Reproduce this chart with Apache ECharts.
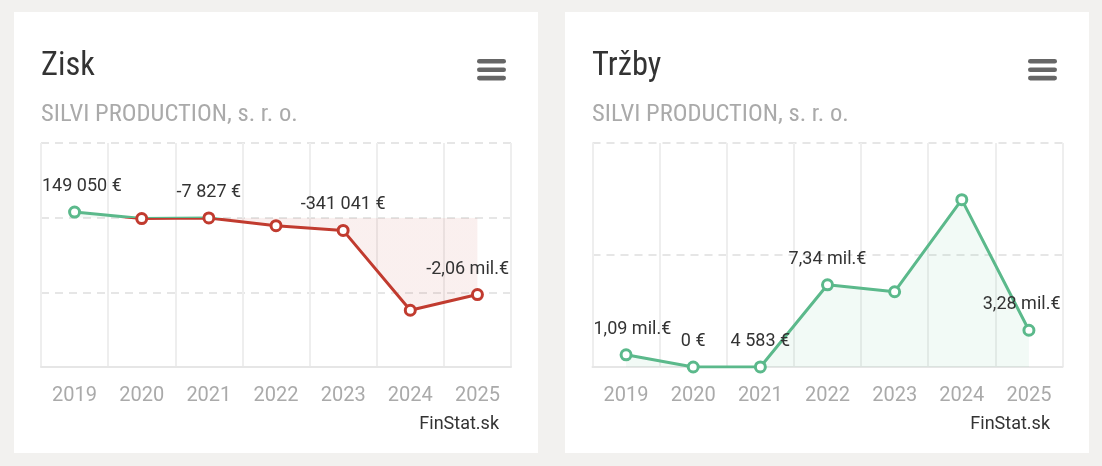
<!DOCTYPE html>
<html><head><meta charset="utf-8">
<script src="https://cdn.jsdelivr.net/npm/echarts@6/dist/echarts.min.js"></script>
<style>
html,body{margin:0;padding:0;background:#f2f1ef;width:1102px;height:466px;overflow:hidden;}
.card{position:absolute;top:12px;width:524px;height:441px;background:#fff;}
#c{position:absolute;left:0;top:0;width:1102px;height:466px;}
</style></head><body>
<div class="card" style="left:14px"></div>
<div class="card" style="left:565px"></div>
<div id="c"></div>
<script>
// ---- data ----
const years = ['2019', '2020', '2021', '2022', '2023', '2024', '2025'];
const profit = [149050, -25000, -7827, -214000, -341041, -2480000, -2060000];
const revenue = [1090000, 0, 4583, 7340000, 6720000, 14940000, 3280000];
const profitLabelShown = [true, false, true, false, true, false, true];
const revenueLabelShown = [true, true, true, true, false, false, true];
const profitAxisMin = -4000000, profitAxisMax = 2000000, profitAxisStep = 2000000;
const revenueAxisMin = 0, revenueAxisMax = 20000000, revenueAxisStep = 10000000;
const cardTitles = ['Zisk', 'Tržby'];
const companyName = 'SILVI PRODUCTION, s. r. o.';
const sourceText = 'FinStat.sk';

// ---- style ----
const GREEN = '#5bb98b', RED = '#c13b2f';
const GREEN_A = 'rgba(91,185,139,0.08)', RED_A = 'rgba(193,59,47,0.08)';
function fontAvail(name) {
  const c = document.createElement('canvas').getContext('2d');
  const t = 'SILVI PRODUCTION abc';
  c.font = '40px monospace'; const a = c.measureText(t).width;
  c.font = '40px "' + name + '", monospace'; const b = c.measureText(t).width;
  return a !== b;
}
const cond = fontAvail('Roboto Condensed');
const titleFont = cond ? '32.5px "Roboto Condensed"' : '30px Roboto';
const subFont = cond ? '24.6px "Roboto Condensed"' : '21.5px Roboto';

function fmt(v) {
  if (Math.abs(v) >= 1e6) return (v / 1e6).toFixed(2).replace('.', ',') + ' mil.€';
  const s = Math.abs(v).toString().replace(/\B(?=(\d{3})+(?!\d))/g, ' ');
  return (v < 0 ? '-' : '') + s + ' €';
}
function clamp(L, R) {
  return function (p) {
    const r = p.labelRect; let dx = 0;
    if (r.x < L) dx = L - r.x;
    else if (r.x + r.width > R) dx = R - (r.x + r.width);
    return { dx: dx };
  };
}

const cardX = [14, 565];
const grids = [
  { left: 41, top: 143, width: 470, height: 224 },
  { left: 592.5, top: 143, width: 470, height: 224 }
];
// split colour at the zero threshold (fraction from the top of the plot)
const zeroFrac = (profitAxisMax - 0) / (profitAxisMax - profitAxisMin);
function splitGradient(up, down) {
  return {
    type: 'linear', global: true, x: 0, y: grids[0].top, x2: 0, y2: grids[0].top + grids[0].height,
    colorStops: [
      { offset: 0, color: up }, { offset: zeroFrac, color: up },
      { offset: zeroFrac, color: down }, { offset: 1, color: down }
    ]
  };
}

const graphic = [];
cardX.forEach(function (ox, i) {
  graphic.push({ type: 'text', x: ox + 27, y: 66.4, style: { text: cardTitles[i], font: titleFont, fill: '#333', align: 'left', verticalAlign: 'middle' } });
  graphic.push({ type: 'text', x: ox + 27, y: 114.5, style: { text: companyName, font: subFont, fill: '#aaa', align: 'left', verticalAlign: 'middle' } });
  [59, 67.4, 75.8].forEach(function (y) {
    graphic.push({ type: 'rect', shape: { x: ox + 463, y: y, width: 29, height: 4.6, r: 2.3 }, style: { fill: '#666' } });
  });
  graphic.push({ type: 'text', x: ox + 485, y: 424.6, style: { text: sourceText, font: '18px Roboto', fill: '#333', align: 'right', verticalAlign: 'middle' } });
});

function xAxis(gi) {
  return {
    type: 'category', gridIndex: gi, data: years, boundaryGap: true,
    axisTick: { show: false },
    axisLine: { onZero: false, lineStyle: { color: '#e6e6e6', width: 2 } },
    axisLabel: { color: '#aaa', fontSize: 20, fontFamily: 'Roboto', margin: 19 },
    splitLine: { show: true, lineStyle: { color: '#eeeeee', width: 2 } }
  };
}
function yAxis(gi, mn, mx, st) {
  return {
    type: 'value', gridIndex: gi, min: mn, max: mx, interval: st,
    axisLabel: { show: false }, axisLine: { show: false }, axisTick: { show: false },
    splitLine: { lineStyle: { color: '#e6e6e6', width: 2, type: [8, 6] } }
  };
}
const labelBase = { show: true, position: 'top', distance: 10, fontSize: 18, color: '#333', fontFamily: 'Roboto', formatter: function (p) { return fmt(p.value); } };

const chart = echarts.init(document.getElementById('c'), null, { renderer: 'canvas' });
chart.setOption({
  animation: false,
  backgroundColor: 'transparent',
  grid: grids,
  xAxis: [xAxis(0), xAxis(1)],
  yAxis: [yAxis(0, profitAxisMin, profitAxisMax, profitAxisStep), yAxis(1, revenueAxisMin, revenueAxisMax, revenueAxisStep)],
  graphic: graphic,
  series: [
    {
      type: 'line', xAxisIndex: 0, yAxisIndex: 0,
      data: profit.map(function (v, i) {
        return { value: v, label: { show: profitLabelShown[i] }, itemStyle: { borderColor: v > 0 ? GREEN : RED } };
      }),
      symbol: 'circle', symbolSize: 10,
      lineStyle: { width: 3, color: splitGradient(GREEN, RED) },
      itemStyle: { color: '#fff', borderWidth: 3 },
      areaStyle: { color: splitGradient(GREEN_A, RED_A), opacity: 1 },
      label: labelBase,
      labelLayout: clamp(42, 509)
    },
    {
      type: 'line', xAxisIndex: 1, yAxisIndex: 1,
      data: revenue.map(function (v, i) { return { value: v, label: { show: revenueLabelShown[i] } }; }),
      symbol: 'circle', symbolSize: 10,
      lineStyle: { width: 3, color: GREEN },
      itemStyle: { color: '#fff', borderColor: GREEN, borderWidth: 3 },
      areaStyle: { color: GREEN_A, opacity: 1 },
      label: labelBase,
      labelLayout: clamp(593.5, 1060.5)
    }
  ]
});
</script></body></html>
